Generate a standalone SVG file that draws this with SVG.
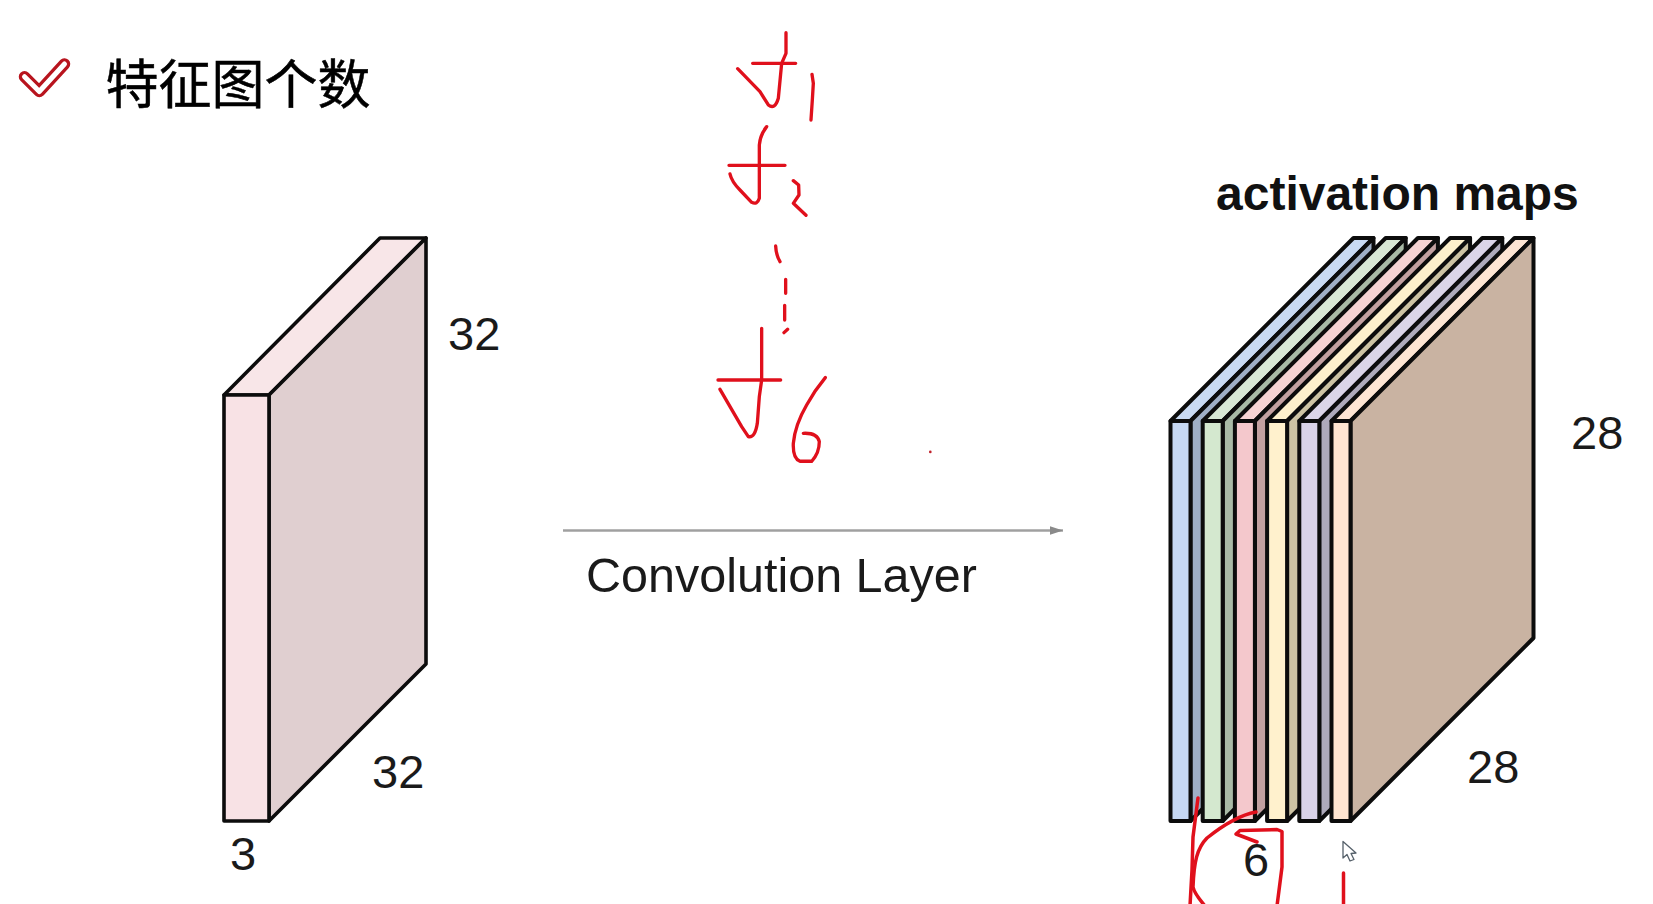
<svg xmlns="http://www.w3.org/2000/svg" width="1653" height="904" viewBox="0 0 1653 904">
<style>
.lbl{font-family:"Liberation Sans",Arial,sans-serif;font-size:47px;fill:#1a1a1a}
.ink{fill:none;stroke:#e0101c;stroke-width:10;stroke-linecap:round;stroke-linejoin:round}
.inkb{fill:none;stroke:#e0101c;stroke-width:3.500;stroke-linecap:round;stroke-linejoin:round}
.box{stroke:#0c0c0c;stroke-linejoin:round}
.s1{stroke-width:3.6}
.s2{stroke-width:4}
</style>
<defs>
<marker id="head" markerUnits="userSpaceOnUse" markerWidth="14" markerHeight="10" refX="13" refY="5" orient="auto"><path d="M0 0.8L13 5L0 9.2Z" fill="#8a8a8a"/></marker>
<g id="slab">
<polygon class="box s2" points="0,183 183,0 203,0 20,183" fill="var(--top)"/>
<polygon class="box s2" points="20,183 203,0 203,400 20,583" fill="var(--side)"/>
<rect class="box s2" x="0" y="183" width="20" height="400" fill="var(--front)"/>
</g>
</defs>
<rect width="1653" height="904" fill="#fff"/>

<g id="title">
<path d="M24.500 76.700L39.300 91.500L64.500 64" fill="none" stroke="#b8141e" stroke-width="11.500" stroke-linecap="round" stroke-linejoin="round"/>
<path d="M24.500 76.700L39.300 91.500L64.500 64" fill="none" stroke="#fff" stroke-width="5" stroke-linecap="round" stroke-linejoin="round"/>
<text x="105.500" y="104" font-family="'Noto Sans CJK SC',sans-serif" font-size="53" fill="#000" stroke="#000" stroke-width=".5">特征图个数</text>
</g>

<g id="input-volume">
<polygon class="box s1" points="224,395 380,238 426,238 269,395" fill="#f8e6e8"/>
<polygon class="box s1" points="269,395 426,238 426,664 269,821" fill="#e0cfd0"/>
<rect class="box s1" x="224" y="395" width="45" height="426" fill="#f8e2e5"/>
<text class="lbl" x="448" y="350">32</text>
<text class="lbl" x="372" y="788">32</text>
<text class="lbl" x="230" y="870">3</text>
</g>

<g id="connectors">
<line x1="563" y1="530.500" x2="1063" y2="530.500" stroke="#a0a0a0" stroke-width="2.400" marker-end="url(#head)"/>
</g>
<g id="convolution-label">
<text class="lbl" x="586" y="592" style="font-size:48.500px">Convolution Layer</text>
</g>

<g id="activation-maps">
<text x="1216" y="210" font-family="'Liberation Sans',Arial,sans-serif" font-size="48" font-weight="700" fill="#111">activation maps</text>
<use href="#slab" x="1170.500" y="238" style="--top:#c9daf3;--side:#9fafc6;--front:#c6d8f3"/>
<use href="#slab" x="1202.700" y="238" style="--top:#d9e8d5;--side:#a9baa6;--front:#d4e8cf"/>
<use href="#slab" x="1234.900" y="238" style="--top:#f5d3d3;--side:#c2a0a0;--front:#f4c8cc"/>
<use href="#slab" x="1267.100" y="238" style="--top:#fdf0cc;--side:#cdc3a4;--front:#fff1cd"/>
<use href="#slab" x="1299.300" y="238" style="--top:#dbd5e8;--side:#aeaabb;--front:#d9d2e8"/>
<polygon class="box s2" points="1331.500,421 1514.500,238 1533.500,238 1350.500,421" fill="#fde5d3"/>
<polygon class="box s2" points="1350.500,421 1533.500,238 1533.500,638 1350.500,821" fill="#c9b3a2"/>
<rect class="box s2" x="1331.500" y="421" width="19" height="400" fill="#ffe5d1"/>
<text class="lbl" x="1571" y="449">28</text>
<text class="lbl" x="1467" y="783">28</text>
<text class="lbl" x="1243" y="876">6</text>
</g>

<g id="annotations-top" transform="translate(700 20) scale(.3333)">
<path class="ink" d="M258 38L258 100L245 130L235 235Q225 270 205 255L180 215L113 146M158 130H287M336 163L340 190L337 240L333 300"/>
<path class="ink" d="M200 320Q180 345 178 375V535Q172 555 155 547L120 510Q95 485 90 462M87 436H255M280 482L296 495L297 525L280 550L318 586"/>
<path class="ink" d="M227 678Q228 705 240 725M257 778V820M254 856V900M252 938L263 928"/>
<path class="ink" d="M185 925V1080L178 1130L172 1210Q165 1255 145 1250L125 1220L60 1108M54 1080H242M376 1073Q345 1110 320 1155Q285 1215 280 1270Q278 1315 300 1324H335Q358 1300 358 1265Q352 1238 310 1240"/>
<circle cx="691" cy="1296" r="4" fill="#c0202a"/>
</g>

<g id="annotations-bottom">
<path class="inkb" d="M1198 798L1193 837L1192 870L1190 906"/>
<path class="inkb" d="M1256 812C1240 815 1222 826 1207 838C1197 848 1194 862 1193 887C1194 893 1200 900 1205 906"/>
<path class="inkb" d="M1257 842L1236 834L1240 830.500L1277 829.500L1282 831.500V867L1277 906"/>
<path class="inkb" d="M1343.500 873V906"/>
</g>

<g id="cursor">
<path d="M1343 841.500V858L1347 854.500L1350 861L1354 859.500L1351 853.500L1356 853Z" fill="#fff" stroke="#55606a" stroke-width="1.300" stroke-linejoin="round"/>
</g>
</svg>
